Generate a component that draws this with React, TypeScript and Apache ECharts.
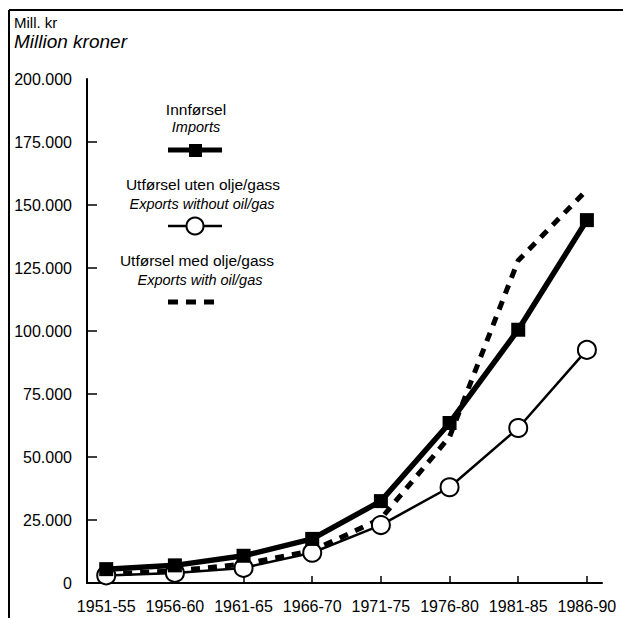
import React, { useEffect, useRef } from "react";
import * as echarts from "echarts";

const categories = ["1951-55", "1956-60", "1961-65", "1966-70", "1971-75", "1976-80", "1981-85", "1986-90"];
const imports = [5500, 7000, 10800, 17500, 32500, 63500, 100500, 144000];
const exportsWithoutOil = [3000, 4000, 6000, 12000, 23000, 38000, 61500, 92500];
const exportsWithOil = [3500, 4800, 7500, 12800, 25500, 58000, 128000, 156000];
const yTicks = [0, 25000, 50000, 75000, 100000, 125000, 150000, 175000, 200000];

const FONT = "'Liberation Sans', Arial, sans-serif";

export default function App() {
  const ref = useRef<HTMLDivElement>(null);
  useEffect(() => {
    if (!ref.current) return;
    const chart = echarts.init(ref.current, null, { renderer: "svg" });
    const idx = categories.map((_, i) => i);
    const toPairs = (arr: number[]) => arr.map((v, i) => [i, v]);
    chart.setOption({
      animation: false,
      backgroundColor: "#ffffff",
      textStyle: { fontFamily: FONT, color: "#000" },
      grid: { left: 87, right: 21, top: 79, bottom: 35, containLabel: false },
      xAxis: {
        type: "value",
        min: -0.28,
        max: 7.22,
        splitLine: { show: false },
        axisLine: { show: true, onZero: false, lineStyle: { color: "#000", width: 2 } },
        axisTick: { show: true, inside: true, length: 7, lineStyle: { color: "#000", width: 1.5 }, customValues: idx },
        axisLabel: {
          show: true,
          customValues: idx,
          hideOverlap: false,
          color: "#000",
          fontSize: 16,
          fontFamily: FONT,
          margin: 15,
          formatter: (v: number) => categories[Math.round(v)] ?? "",
        },
      },
      yAxis: {
        type: "value",
        min: 0,
        max: 200000,
        interval: 25000,
        splitLine: { show: false },
        axisLine: { show: true, onZero: false, lineStyle: { color: "#000", width: 2 } },
        axisTick: { show: true, inside: true, length: 10, lineStyle: { color: "#000", width: 1.5 }, customValues: yTicks.slice(0, 8) },
        axisLabel: {
          color: "#000",
          fontSize: 16,
          fontFamily: FONT,
          margin: 15,
          formatter: (v: number) => (v === 0 ? "0" : `${v / 1000}.000`),
        },
      },
      series: [
        {
          name: "Utførsel med olje/gass",
          type: "line",
          data: toPairs(exportsWithOil),
          symbol: "none",
          lineStyle: { color: "#000", width: 5, type: [9, 8] },
          z: 2,
        },
        {
          name: "Utførsel uten olje/gass",
          type: "line",
          data: toPairs(exportsWithoutOil),
          symbol: "circle",
          symbolSize: 18,
          itemStyle: { color: "#fff", borderColor: "#000", borderWidth: 2 },
          lineStyle: { color: "#000", width: 2.5 },
          z: 3,
        },
        {
          name: "Innførsel",
          type: "line",
          data: toPairs(imports),
          symbol: "rect",
          symbolSize: 14,
          itemStyle: { color: "#000" },
          lineStyle: { color: "#000", width: 5.5 },
          z: 4,
        },
      ],
      graphic: [
        { type: "line", shape: { x1: 9, y1: 10, x2: 623, y2: 10 }, style: { stroke: "#000", lineWidth: 2 } },
        { type: "line", shape: { x1: 9, y1: 10, x2: 9, y2: 618 }, style: { stroke: "#000", lineWidth: 2 } },
        { type: "text", x: 14, y: 22, style: { text: "Mill. kr", fontSize: 15, fontFamily: FONT, fill: "#000", verticalAlign: "middle" } },
        { type: "text", x: 14, y: 41, style: { text: "Million kroner", fontSize: 19, fontStyle: "italic", fontFamily: FONT, fill: "#000", verticalAlign: "middle" } },

        { type: "text", x: 196, y: 109, style: { text: "Innførsel", fontSize: 15.5, fontFamily: FONT, fill: "#000", align: "center", verticalAlign: "middle" } },
        { type: "text", x: 196, y: 127, style: { text: "Imports", fontSize: 14.5, fontStyle: "italic", fontFamily: FONT, fill: "#000", align: "center", verticalAlign: "middle" } },
        { type: "line", shape: { x1: 168, y1: 150, x2: 222, y2: 150 }, style: { stroke: "#000", lineWidth: 5 } },
        { type: "rect", shape: { x: 189, y: 144, width: 13, height: 13 }, style: { fill: "#000" } },

        { type: "text", x: 203, y: 184, style: { text: "Utførsel uten olje/gass", fontSize: 15.5, fontFamily: FONT, fill: "#000", align: "center", verticalAlign: "middle" } },
        { type: "text", x: 202, y: 204, style: { text: "Exports without oil/gas", fontSize: 14.5, fontStyle: "italic", fontFamily: FONT, fill: "#000", align: "center", verticalAlign: "middle" } },
        { type: "line", shape: { x1: 168, y1: 226, x2: 222, y2: 226 }, style: { stroke: "#000", lineWidth: 2.5 } },
        { type: "circle", shape: { cx: 195, cy: 226, r: 8.5 }, style: { fill: "#fff", stroke: "#000", lineWidth: 2 } },

        { type: "text", x: 197, y: 260, style: { text: "Utførsel med olje/gass", fontSize: 15.5, fontFamily: FONT, fill: "#000", align: "center", verticalAlign: "middle" } },
        { type: "text", x: 200, y: 280, style: { text: "Exports with oil/gas", fontSize: 14.5, fontStyle: "italic", fontFamily: FONT, fill: "#000", align: "center", verticalAlign: "middle" } },
        { type: "line", shape: { x1: 168, y1: 302, x2: 220, y2: 302 }, style: { stroke: "#000", lineWidth: 5, lineDash: [10, 8] } },
      ],
    });
    return () => chart.dispose();
  }, []);
  return <div ref={ref} style={{ width: 623, height: 618, position: "absolute", left: 0, top: 0 }} />;
}
